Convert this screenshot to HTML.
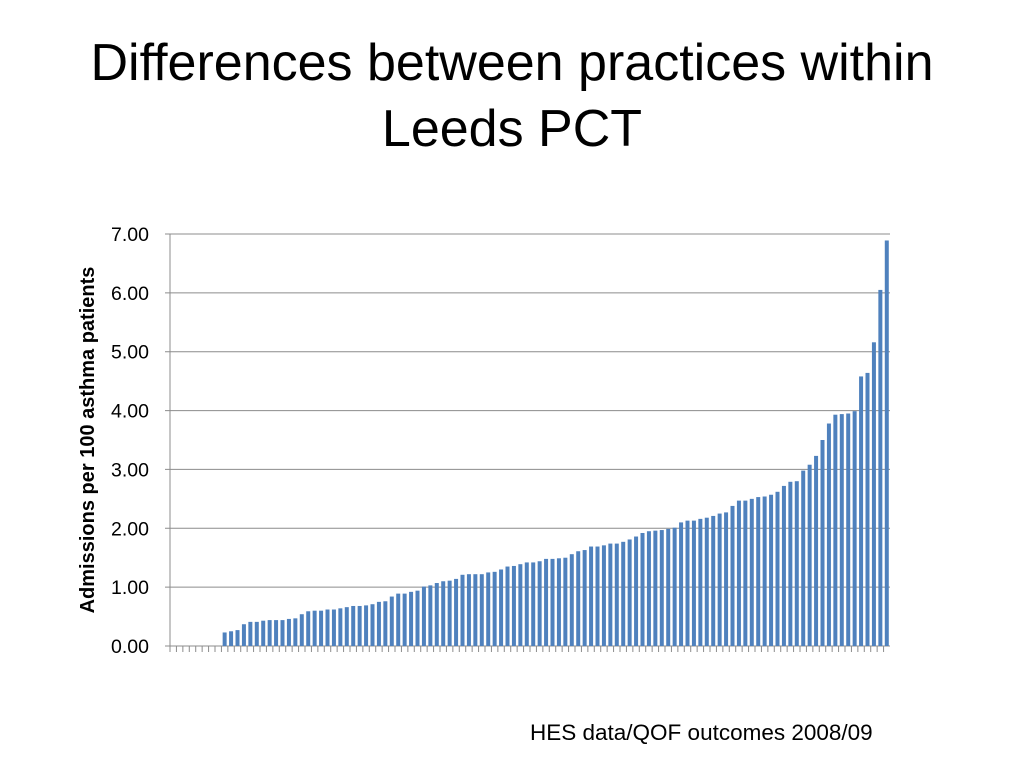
<!DOCTYPE html>
<html><head><meta charset="utf-8"><style>
body{margin:0;width:1024px;height:768px;background:#fff;font-family:"Liberation Sans",Arial,sans-serif;overflow:hidden;position:relative}
#title{position:absolute;top:30px;left:0;width:1024px;text-align:center;font-size:52px;line-height:66px;color:#000}
#foot{position:absolute;left:530px;top:720px;font-size:22.5px;color:#000}
svg{position:absolute;left:0;top:0}
</style></head><body>
<div id="title">Differences between practices within<br>Leeds PCT</div>
<svg id="chart" width="1024" height="768"></svg>
<div id="foot">HES data/QOF outcomes 2008/09</div>
<script>
const yTicks=[0,1,2,3,4,5,6,7];
const tickLabels=["0.00","1.00","2.00","3.00","4.00","5.00","6.00","7.00"];
const values=[0,0,0,0,0,0,0,0,
0.23,0.25,0.27,0.37,0.41,0.41,0.43,0.44,0.44,0.44,0.46,0.47,0.54,0.59,0.60,0.60,0.62,0.62,0.64,0.66,0.68,0.68,0.69,0.71,0.75,0.76,0.84,0.89,0.89,
0.92,0.94,1.01,1.03,1.07,1.10,1.11,1.14,1.21,1.22,1.22,1.22,1.25,1.26,1.30,1.35,1.36,1.39,1.42,1.42,1.44,1.48,1.48,1.49,1.50,1.56,1.61,1.63,1.69,1.69,1.71,1.74,1.74,1.77,1.81,1.86,1.92,1.95,1.96,
1.97,1.99,2.01,2.10,2.13,2.13,2.16,2.18,2.21,2.25,2.27,2.38,2.47,2.47,2.50,2.53,2.54,2.57,2.62,2.72,2.79,2.80,2.98,3.08,3.23,3.50,3.78,3.93,3.94,3.95,3.99,4.58,4.64,5.16,6.05,6.89];
const NS="http://www.w3.org/2000/svg";
const svg=document.getElementById('chart');
const L=170,R=890,B=646,T=234,yMax=7;
const y=v=>B-(v/yMax)*(B-T);
const step=(R-L)/values.length;
const x=i=>L+i*step;
function mk(t,a){const e=document.createElementNS(NS,t);for(const k in a)e.setAttribute(k,a[k]);svg.appendChild(e);return e;}
yTicks.forEach((t,i)=>{
  const g=mk('line',{x1:L-5,x2:R,y1:y(t),y2:y(t),stroke:'#8c8c8c','stroke-width':1});
  
  
  const tx=mk('text',{x:L-21,y:y(t)+7,'text-anchor':'end','font-size':19.5,fill:'#000','font-family':'Liberation Sans, sans-serif'});
  tx.textContent=tickLabels[i];
  
  
});
const ax=mk('line',{x1:L,x2:L,y1:T,y2:B,stroke:'#8c8c8c','stroke-width':1});


values.forEach((v,i)=>{
  const tk=mk('line',{x1:x(i),x2:x(i),y1:B,y2:B+6,stroke:'#8c8c8c','stroke-width':1});
  
  
  const r=mk('rect',{x:x(i)+step/2-2,y:y(v),width:4,height:B-y(v),fill:'#4f81bd'});
  
  
});
const yt=mk('text',{x:0,y:0,transform:'translate(94,440) rotate(-90)','text-anchor':'middle','font-size':20,'font-weight':'bold',fill:'#000','font-family':'Liberation Sans, sans-serif'});
yt.textContent='Admissions per 100 asthma patients';


</script>
</body></html>
